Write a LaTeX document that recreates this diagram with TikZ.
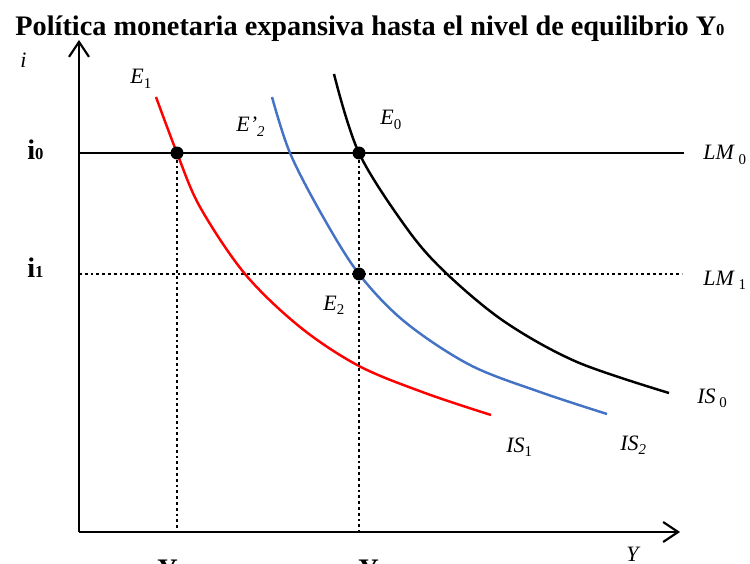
\documentclass[tikz,border=0pt]{standalone}
\usepackage{fontspec}
\setmainfont{Liberation Serif}
\usetikzlibrary{arrows.meta, positioning}
\definecolor{isred}{RGB}{255,0,0}
\definecolor{isblue}{RGB}{68,114,196}
\newcommand{\lsub}[1]{\raisebox{-0.4ex}{\fontsize{8.5}{9}\selectfont #1}}
\newcommand{\bsub}[1]{{\fontsize{9.5}{10}\selectfont #1}}

\begin{document}
\begin{tikzpicture}[
  x=0.02cm, y=-0.02cm,
  axis/.style={line width=1.3pt, -{Straight Barb[length=0.3cm, width=0.4cm, line width=1.2pt]}},
  lmline/.style={line width=1.7pt},
  guide/.style={line width=1.3pt, dash pattern=on 1.6pt off 1.7pt},
  curve/.style={line width=1.4pt, smooth, tension=0.55},
  eqdot/.style={circle, fill=black, inner sep=0pt, minimum size=0.26cm},
  lab/.style={anchor=base west, inner sep=0pt, font=\fontsize{12.5}{14}\selectfont},
  blab/.style={anchor=base west, inner sep=0pt, font=\fontsize{16.1}{18}\selectfont\bfseries}
]
  \useasboundingbox (0,0) rectangle (750,564);

  % title
  \node[blab] (title) at (15,36) {Política monetaria expansiva hasta el nivel de equilibrio Y\bsub{0}};

  % axes
  \coordinate (O) at (79,532);
  \coordinate (ytip) at (79,40);
  \coordinate (xtip) at (680,532);
  \draw[axis] (O) -- (ytip);
  \draw[axis] (O) -- (xtip);

  % LM lines
  \coordinate (lm0end) at (684,153);
  \coordinate (lm1end) at (682,274);
  \draw[lmline] (O |- lm0end) -- (lm0end);
  \draw[guide] (O |- lm1end) -- (lm1end);

  % IS curves
  \draw[curve, isred] plot coordinates {(156,97) (177,153) (200,207) (245,274)
    (300,327) (359,366) (425,393) (491,415)};
  \draw[curve, isblue] plot coordinates {(272,97) (290,153) (322,215) (359,274)
    (405,322) (470,365) (540,392) (607,414)};
  \draw[curve, black] plot coordinates {(334,74) (359,153) (408,230) (447,274)
    (505,322) (577,362) (669,393)};

  % equilibria
  \node[eqdot] (E1) at (177,153) {};
  \node[eqdot] (E0) at (359,153) {};
  \node[eqdot] (E2) at (359,274) {};
  \draw[guide] (E1) -- (E1 |- O);
  \draw[guide] (E0) -- (E2);
  \draw[guide] (E2) -- (E2 |- O);

  % labels
  \node[lab] (ilab) at (20,68) {\textit{i}};
  \node[blab] (i0lab) at (27,160) {i\bsub{0}};
  \node[blab] (i1lab) at (27,277) {i\bsub{1}};
  \node[lab] (E1lab) at (130,84) {\textit{E}\lsub{1}};
  \node[lab] (E2plab) at (236,132) {\textit{E’}\lsub{\textit{2}}};
  \node[lab] (E0lab) at (380,125) {\textit{E}\lsub{0}};
  \node[lab] (E2lab) at (323,310) {\textit{E}\lsub{2}};
  \node[lab] (LM0lab) at (703,160) {\textit{LM}\,\lsub{0}};
  \node[lab] (LM1lab) at (703,285) {\textit{LM}\,\lsub{1}};
  \node[lab] (IS0lab) at (697,403) {\textit{IS}\,\lsub{0}};
  \node[lab] (IS1lab) at (506,452) {\textit{IS}\lsub{1}};
  \node[lab] (IS2lab) at (620,450) {\textit{IS}\lsub{\textit{2}}};
  \node[lab] (Ylab) at (626,561) {\textit{Y}};
  \node[blab] (Y1lab) at (157,578) {Y\bsub{1}};
  \node[blab] (Y0lab) at (358,578) {Y\bsub{0}};
\end{tikzpicture}
\end{document}
